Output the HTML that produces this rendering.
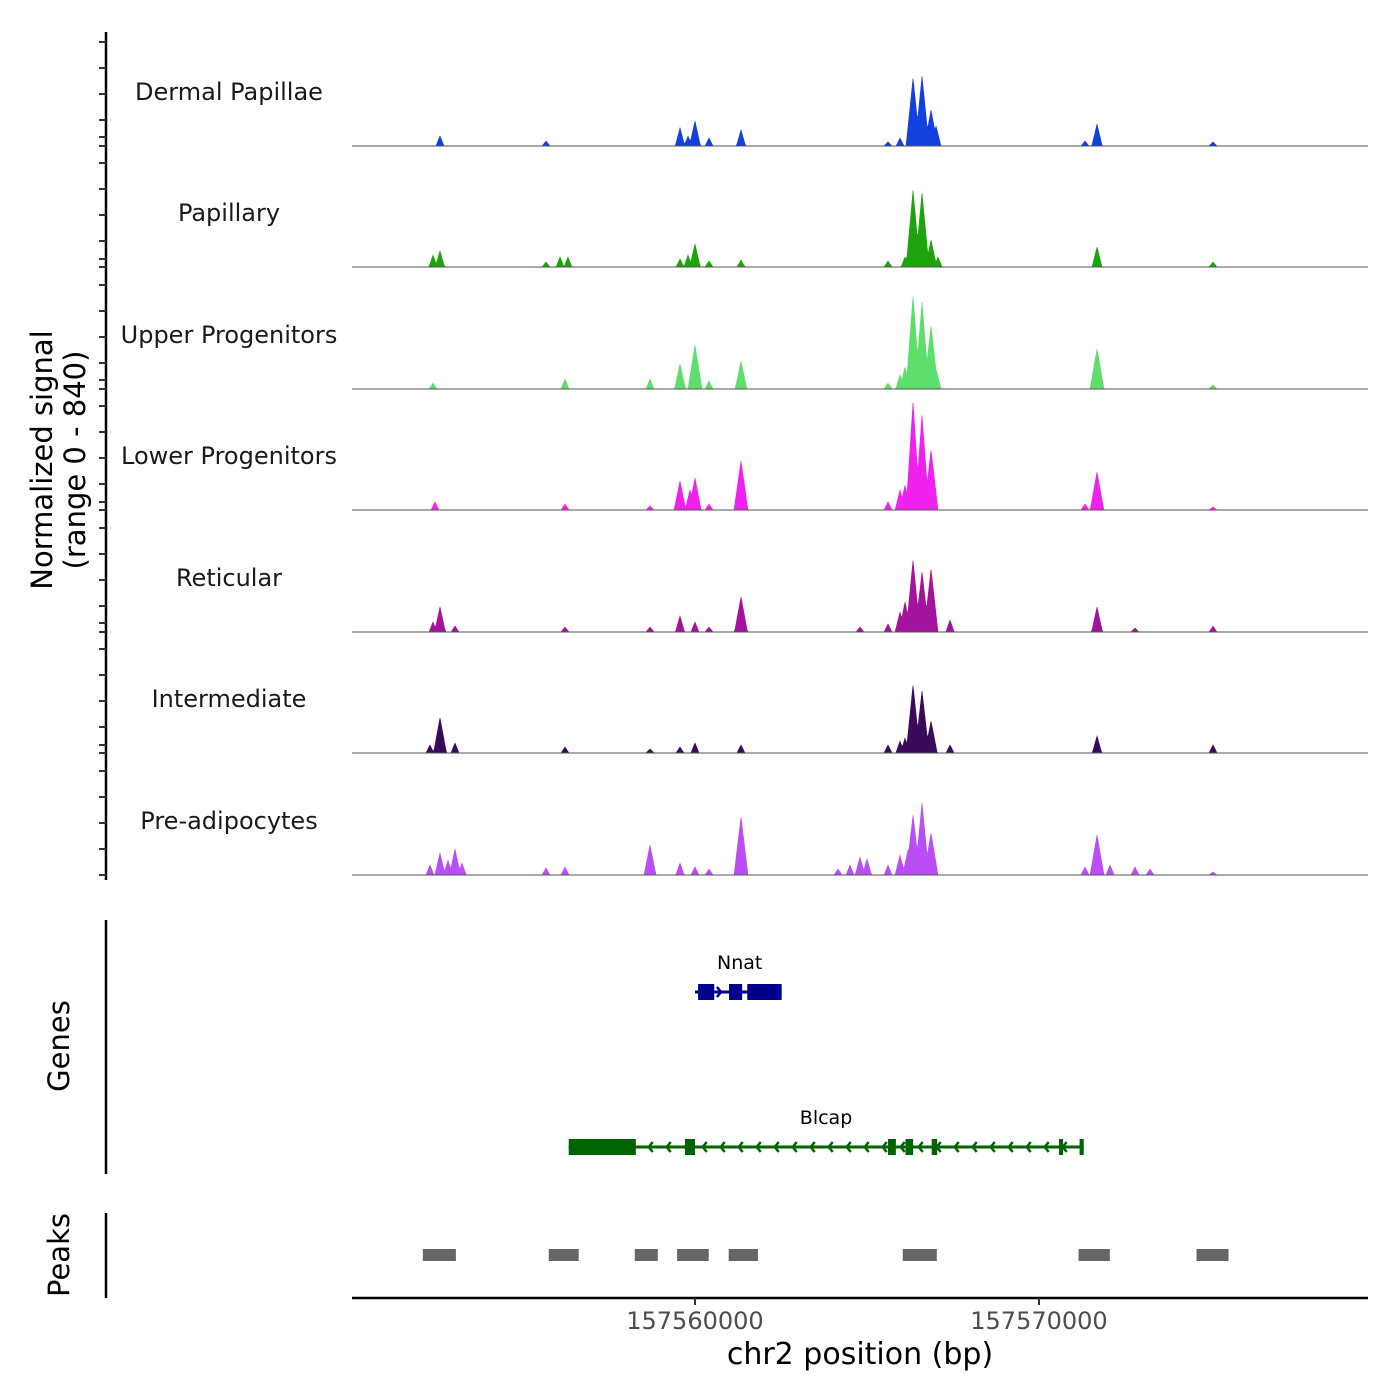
<!DOCTYPE html>
<html><head><meta charset="utf-8"><style>
html,body{margin:0;padding:0;background:#fff;}
svg{display:block;font-family:"DejaVu Sans","Liberation Sans",sans-serif;}
</style></head><body>
<svg id="chart" width="1400" height="1400" viewBox="0 0 1400 1400" xmlns="http://www.w3.org/2000/svg">
<rect width="1400" height="1400" fill="#fff"/>
<g id="tracks"></g>
<g id="yaxis"></g>
<text transform="translate(52,460) rotate(-90)" text-anchor="middle" font-size="29" fill="#000">Normalized signal</text>
<text transform="translate(85,460) rotate(-90)" text-anchor="middle" font-size="29" fill="#000">(range 0 - 840)</text>
<g id="genes"></g>
<line x1="106" y1="920" x2="106" y2="1174" stroke="#000" stroke-width="2.5"/>
<text transform="translate(69,1046) rotate(-90)" text-anchor="middle" font-size="29">Genes</text>
<g id="peaks"></g>
<line x1="106" y1="1213" x2="106" y2="1298" stroke="#000" stroke-width="2.5"/>
<text transform="translate(69,1255) rotate(-90)" text-anchor="middle" font-size="29">Peaks</text>
<g id="xaxis"></g>
<text x="860" y="1364" text-anchor="middle" font-size="30">chr2 position (bp)</text>
</svg>
<script>
const NS='http://www.w3.org/2000/svg';
const regionStart=157550030, regionEnd=157579564;
const xTicks=[157560000,157570000];
const trackNames=['Dermal Papillae','Papillary','Upper Progenitors','Lower Progenitors','Reticular','Intermediate','Pre-adipocytes'];
const trackColors=['#1440dc','#1ea30c','#5ede6a','#f020ee','#a3139e','#3a0a5a','#b94ef6'];
const yTicks=[0,200,400,600,800];
const peakPos=[
[157552588,157555670,157559565,157559798,157560000,157560408,157561338,157565612,157565961,157566339,157566600,157566862,157567007,157571338,157571687,157575059],
[157552385,157552588,157555670,157556077,157556309,157559565,157559798,157560000,157560408,157561338,157565612,157566106,157566339,157566600,157566862,157567066,157571687,157575059],
[157552385,157556222,157558693,157559565,157560000,157560408,157561338,157565612,157565961,157566106,157566339,157566600,157566862,157567007,157571687,157575059],
[157552443,157556222,157558693,157559565,157559856,157560000,157560408,157561338,157565612,157565961,157566106,157566339,157566600,157566862,157571338,157571687,157575059],
[157552385,157552588,157553024,157556222,157558693,157559565,157560000,157560408,157561338,157564798,157565612,157565961,157566106,157566339,157566600,157566862,157567414,157571687,157572792,157575059],
[157552297,157552588,157553024,157556222,157558693,157559565,157560000,157561338,157565612,157565961,157566106,157566339,157566600,157566862,157567414,157571687,157575059],
[157552297,157552588,157552821,157553024,157553228,157555670,157556222,157558693,157559565,157560000,157560408,157561338,157564158,157564507,157564798,157565001,157565612,157565961,157566193,157566339,157566600,157566862,157571338,157571687,157572065,157572792,157573228,157575059]
];
const peakVal=[
[77,38,139,77,192,62,123,31,62,523,538,277,154,38,169,31],
[92,123,38,77,77,62,92,177,46,54,46,77,592,569,208,77,154,38],
[46,77,77,192,338,62,215,46,108,169,715,669,485,154,308,31],
[62,46,31,223,154,246,46,377,62,154,192,831,731,462,46,292,23],
[77,192,46,38,38,123,77,38,269,38,62,154,231,554,462,485,92,192,31,46],
[62,269,77,46,31,46,77,62,62,92,115,523,477,246,62,131,62],
[77,169,115,200,92,54,62,231,92,62,46,446,46,77,138,123,77,154,192,462,554,323,62,308,77,62,46,23]
];
const peakRanges=[[157552090,157553050],[157555750,157556620],[157558250,157558920],[157559480,157560400],[157560980,157561830],[157566040,157567030],[157571150,157572060],[157574580,157575510]];
const genes=[
 {name:'Nnat',start:157560000,end:157562520,strand:'+',y:992,color:'#00008b',labelX:157561300,exons:[[157560090,157560560],[157560990,157561370],[157561520,157562520]]},
 {name:'Blcap',start:157556330,end:157571300,strand:'-',y:1147,color:'#006400',labelX:157563810,exons:[[157556330,157558280],[157559710,157560000],[157565610,157565840],[157566120,157566340],[157566880,157567040],[157570580,157570700],[157571180,157571300]]}
];
const X0=352,X1=1368;
const xs=v=>X0+(v-regionStart)/(regionEnd-regionStart)*(X1-X0);
const yPx=0.13;
const baselines=[146,267,389,510,632,753,875];
function mk(tag,attrs,parent){const e=document.createElementNS(NS,tag);for(const k in attrs)e.setAttribute(k,attrs[k]);parent.appendChild(e);return e;}
const tracks=document.getElementById('tracks');
const yaxis=document.getElementById('yaxis');
mk('line',{x1:106,y1:32,x2:106,y2:880,stroke:'#000','stroke-width':2.5},yaxis);
trackNames.forEach((nm,i)=>{
  const b=baselines[i];
  const g=mk('g',{},tracks);
  
  
  const lab=mk('text',{x:229,y:b-46,'text-anchor':'middle','font-size':24,fill:'#1a1a1a'},g);
  lab.textContent=nm;
  
  
  const vals=[];
  for(let x=X0;x<=X1;x++){
    let m=0;
    peakPos[i].forEach((p,j)=>{
      const px=xs(p), h=peakVal[i][j]*yPx, w=Math.max(4,Math.min(7,h/10+3));
      const d=Math.abs(x-px);
      if(d<w){m=Math.max(m,h*(1-d/w));}
    });
    vals.push(m);
  }
  let d='M'+X0+','+b;
  vals.forEach((v,k)=>{d+=' L'+(X0+k)+','+(b-v).toFixed(1);});
  d+=' L'+X1+','+b+' Z';
  const p=mk('path',{d:d,fill:trackColors[i],stroke:trackColors[i],'stroke-width':0.6},g);
  
  
  const bl=mk('line',{x1:X0,y1:b,x2:X1,y2:b,stroke:'#555','stroke-width':1},g);
  
  
  yTicks.concat([1000]).forEach(t=>{
    const y=b-t*yPx; if(y<32)return;
    const tk=mk('line',{x1:99,y1:y,x2:106,y2:y,stroke:'#333','stroke-width':2},yaxis);
    
    
  });
});
const gg=document.getElementById('genes');
genes.forEach(gn=>{
  const g=mk('g',{},gg);
  
  
  const x1=xs(gn.start),x2=xs(gn.end),y=gn.y;
  mk('line',{x1:x1,y1:y,x2:x2,y2:y,stroke:gn.color,'stroke-width':3},g);
  const dir=gn.strand==='+'?1:-1;
  for(let x=x1+8;x<x2-4;x+=18){
    mk('polyline',{points:`${x-4*dir},${y-5} ${x},${y} ${x-4*dir},${y+5}`,fill:'none',stroke:gn.color,'stroke-width':2.5},g);
  }
  gn.exons.forEach(e=>{
    const r=mk('rect',{x:xs(e[0]),y:y-8,width:Math.max(3,xs(e[1])-xs(e[0])),height:16,fill:gn.color},g);
    
    
  });
  const t=mk('text',{x:xs(gn.labelX),y:y-23,'text-anchor':'middle','font-size':19,fill:'#000'},g);
  t.textContent=gn.name;
  
  
});
const pg=document.getElementById('peaks');
peakRanges.forEach(r=>{
  const e=mk('rect',{x:xs(r[0]),y:1249,width:xs(r[1])-xs(r[0]),height:12,fill:'#666'},pg);
  
  
});
const xa=document.getElementById('xaxis');
mk('line',{x1:X0,y1:1298,x2:X1,y2:1298,stroke:'#000','stroke-width':2.5},xa);
xTicks.forEach(t=>{
  const x=xs(t);
  const tk=mk('line',{x1:x,y1:1298,x2:x,y2:1305,stroke:'#333','stroke-width':2},xa);
  
  
  const l=mk('text',{x:x,y:1329,'text-anchor':'middle','font-size':24,fill:'#4d4d4d'},xa);
  l.textContent=String(t);
  
  
});
</script>
</body></html>
